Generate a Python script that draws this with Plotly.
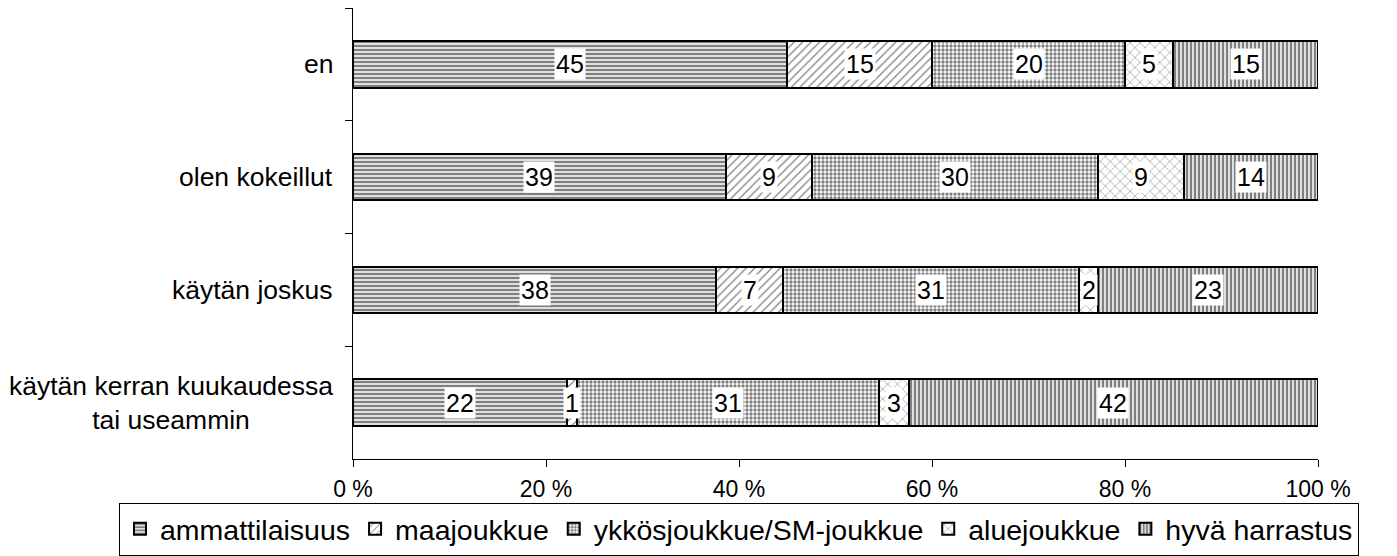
import plotly.graph_objects as go

categories = ["en", "olen kokeillut", "käytän joskus", "käytän kerran kuukaudessa<br>tai useammin"]
series_names = ["ammattilaisuus", "maajoukkue", "ykkösjoukkue/SM-joukkue", "aluejoukkue", "hyvä harrastus"]
ammattilaisuus = [45, 39, 38, 22]
maajoukkue = [15, 9, 7, 1]
ykkosjoukkue = [20, 30, 31, 31]
aluejoukkue = [5, 9, 2, 3]
hyva_harrastus = [15, 14, 23, 42]
x_ticks = [0, 20, 40, 60, 80, 100]
x_tick_labels = ["0 %", "20 %", "40 %", "60 %", "80 %", "100 %"]

series = [ammattilaisuus, maajoukkue, ykkosjoukkue, aluejoukkue, hyva_harrastus]
patterns = [
    dict(shape="-", size=4, solidity=0.62),
    dict(shape="/", size=6, solidity=0.2),
    dict(shape=".", size=4, solidity=0.55),
    dict(shape="x", size=7, solidity=0.15),
    dict(shape="|", size=4, solidity=0.62),
]

FONT = "Liberation Sans, Arial, sans-serif"
fig = go.Figure()
for name, vals, pat in zip(series_names, series, patterns):
    fig.add_trace(go.Bar(
        name=name, y=categories, x=vals, orientation="h",
        marker=dict(color="white", line=dict(color="black", width=2),
                    pattern=dict(fgcolor="black", bgcolor="white", fillmode="overlay", **pat)),
        hoverinfo="skip",
    ))

annotations = []
for i, cat in enumerate(categories):
    total = sum(s[i] for s in series)
    cum = 0
    for s in series:
        v = s[i]
        mid = (cum + v / 2) / total * 100
        cum += v
        annotations.append(dict(x=mid, y=cat, xref="x", yref="y", text=str(v), showarrow=False,
                                bgcolor="white", borderpad=1,
                                font=dict(family=FONT, size=25, color="black")))
    annotations.append(dict(x=0, y=cat, xref="paper", yref="y", text=cat, showarrow=False,
                            xanchor="right", xshift=-18, align="center",
                            font=dict(family=FONT, size=26.5, color="black")))

# the page adds an 8px body margin, so the figure is sized 8px smaller
fig.update_layout(
    barmode="stack", barnorm="percent", bargap=0.586,
    width=1389, height=548,
    margin=dict(l=345, r=79, t=0, b=94),
    paper_bgcolor="white", plot_bgcolor="white",
    font=dict(family=FONT, color="black"),
    annotations=annotations,
    legend=dict(orientation="h", x=-0.2425, xanchor="left", y=-0.097, yanchor="top",
                bordercolor="black", borderwidth=1, font=dict(family=FONT, size=28.5),
                traceorder="normal", itemwidth=30, tracegroupgap=0),
    xaxis=dict(range=[0, 100], tickvals=x_ticks, ticktext=x_tick_labels, showgrid=False,
               zeroline=False, showline=True, linecolor="black", linewidth=1,
               ticks="outside", ticklen=7, tickcolor="black", ticklabelstandoff=2,
               tickfont=dict(family=FONT, size=23)),
    yaxis=dict(type="category", autorange="reversed", showgrid=False, zeroline=False,
               showline=True, linecolor="black", linewidth=1, showticklabels=False,
               ticks="outside", ticklen=7, tickcolor="black", tickson="boundaries"),
)

fig.write_html("out.html")
